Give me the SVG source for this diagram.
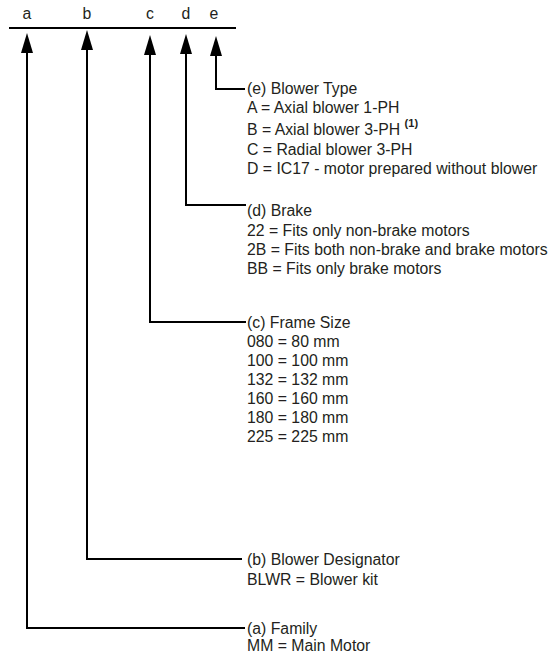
<svg xmlns="http://www.w3.org/2000/svg" width="552" height="653" viewBox="0 0 552 653">
<defs>
<marker id="ah" markerUnits="userSpaceOnUse" markerWidth="20" markerHeight="12" refX="15" refY="6" orient="auto" viewBox="0 0 20 12">
<path d="M0,0 L20,6 L0,12 Z" fill="#000"/>
</marker>
<style>
text{font-family:"Liberation Sans",Arial,sans-serif;font-size:15.8px;fill:#231f20}
.c{stroke:#000;stroke-width:2;fill:none}
.sup{font-size:11px;font-weight:bold}
</style>
</defs>
<rect width="552" height="653" fill="#fff"/>
<g id="header">
<line x1="9" y1="28" x2="236" y2="28" class="c"/>
<text x="27" y="19" text-anchor="middle">a</text>
<text x="87" y="19" text-anchor="middle">b</text>
<text x="150" y="19" text-anchor="middle">c</text>
<text x="186" y="19" text-anchor="middle">d</text>
<text x="214" y="19" text-anchor="middle">e</text>
</g>
<g id="connectors">
<path d="M245,628 H27 V38" class="c" marker-end="url(#ah)"/>
<path d="M242,559 H87 V35" class="c" marker-end="url(#ah)"/>
<path d="M246,322 H150 V40" class="c" marker-end="url(#ah)"/>
<path d="M246,205 H186 V39" class="c" marker-end="url(#ah)"/>
<path d="M245,89 H216 V41" class="c" marker-end="url(#ah)"/>
</g>
<g id="node-e">
<text x="247" y="94">(e) Blower Type</text>
<text x="247" y="113">A = Axial blower 1-PH</text>
<text x="247" y="135">B = Axial blower 3-PH <tspan class="sup" dy="-8">(1)</tspan></text>
<text x="247" y="155">C = Radial blower 3-PH</text>
<text x="247" y="174">D = IC17 - motor prepared without blower</text>
</g>
<g id="node-d">
<text x="247" y="216">(d) Brake</text>
<text x="247" y="235.5">22 = Fits only non-brake motors</text>
<text x="247" y="255">2B = Fits both non-brake and brake motors</text>
<text x="247" y="274">BB = Fits only brake motors</text>
</g>
<g id="node-c">
<text x="247" y="328">(c) Frame Size</text>
<text x="247" y="347">080 = 80 mm</text>
<text x="247" y="366">100 = 100 mm</text>
<text x="247" y="385">132 = 132 mm</text>
<text x="247" y="404">160 = 160 mm</text>
<text x="247" y="423">180 = 180 mm</text>
<text x="247" y="442">225 = 225 mm</text>
</g>
<g id="node-b">
<text x="247" y="565">(b) Blower Designator</text>
<text x="247" y="584.5">BLWR = Blower kit</text>
</g>
<g id="node-a">
<text x="247" y="634">(a) Family</text>
<text x="247" y="651">MM = Main Motor</text>
</g>
</svg>
